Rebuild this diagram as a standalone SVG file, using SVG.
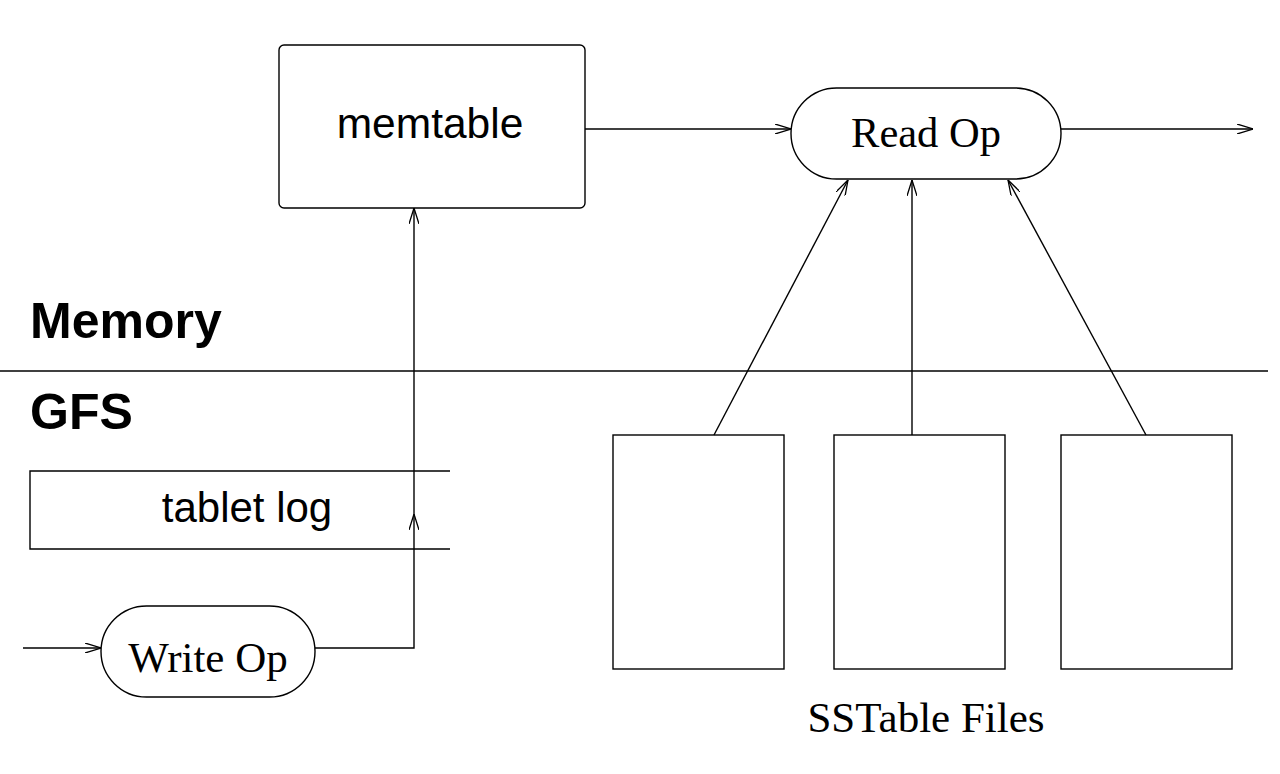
<svg xmlns="http://www.w3.org/2000/svg" width="1280" height="774" viewBox="0 0 1280 774">
<defs>
<marker id="arr" viewBox="0 0 16 10" refX="16" refY="5" markerWidth="16" markerHeight="10" markerUnits="userSpaceOnUse" orient="auto">
<path d="M0,0 L16,5 L0,10" fill="none" stroke="#000" stroke-width="1.3"/>
</marker>
<style>
.ln{fill:none;stroke:#000;stroke-width:1.4}
.box{fill:#fff;stroke:#000;stroke-width:1.4}
.sans{font-family:"Liberation Sans",Arial,sans-serif;fill:#000}
.serif{font-family:"Liberation Serif","Times New Roman",serif;fill:#000}
</style>
</defs>
<rect width="1280" height="774" fill="#fff"/>
<g id="divider">
<line class="ln" x1="0" y1="371" x2="1268" y2="371"/>
<text class="sans" x="30" y="338" font-size="50" font-weight="bold">Memory</text>
<text class="sans" x="30" y="429" font-size="50" font-weight="bold">GFS</text>
</g>
<g id="memtable">
<rect class="box" x="279" y="45" width="306" height="163" rx="5"/>
<text class="sans" x="430" y="138" font-size="42.5" text-anchor="middle">memtable</text>
</g>
<g id="readop">
<rect class="box" x="791" y="88" width="270" height="91" rx="45.5"/>
<text class="serif" x="926" y="147" font-size="42.5" text-anchor="middle">Read Op</text>
</g>
<g id="tabletlog">
<path class="ln" d="M450,471 H30 V549 H450"/>
<text class="sans" x="247" y="522" font-size="42" text-anchor="middle">tablet log</text>
</g>
<g id="writeop">
<rect class="box" x="101" y="606" width="214" height="91" rx="45.5"/>
<text class="serif" x="208" y="672" font-size="43" text-anchor="middle">Write Op</text>
</g>
<g id="sstable1"><rect class="box" x="613" y="435" width="171" height="234"/></g>
<g id="sstable2"><rect class="box" x="834" y="435" width="171" height="234"/></g>
<g id="sstable3"><rect class="box" x="1061" y="435" width="171" height="234"/></g>
<text class="serif" x="926" y="732" font-size="43" text-anchor="middle">SSTable Files</text>
<g id="connectors">
<line class="ln" x1="585" y1="129" x2="791" y2="129" marker-end="url(#arr)"/>
<line class="ln" x1="1061" y1="129" x2="1253" y2="129" marker-end="url(#arr)"/>
<line class="ln" x1="23" y1="648" x2="101" y2="648" marker-end="url(#arr)"/>
<path class="ln" d="M315,648 H414 V514" marker-end="url(#arr)"/>
<line class="ln" x1="414" y1="514" x2="414" y2="208" marker-end="url(#arr)"/>
<line class="ln" x1="714" y1="435" x2="848" y2="180" marker-end="url(#arr)"/>
<line class="ln" x1="912" y1="435" x2="912" y2="180" marker-end="url(#arr)"/>
<line class="ln" x1="1146" y1="435" x2="1008" y2="180" marker-end="url(#arr)"/>
</g>
</svg>
